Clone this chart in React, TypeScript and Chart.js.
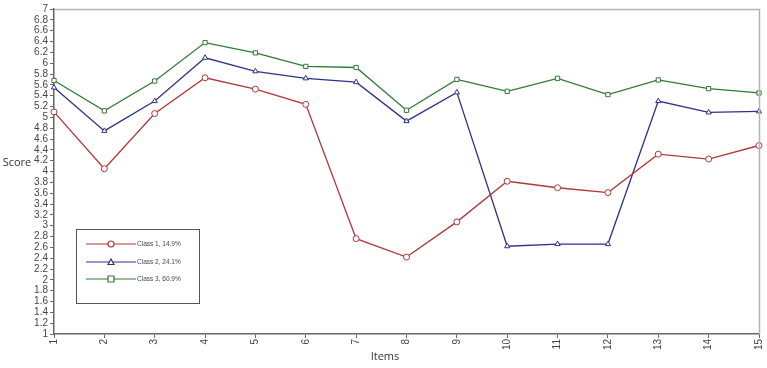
import React, { useEffect, useRef } from "react";
import { Chart, registerables } from "chart.js";

Chart.register(...registerables);

const items = ["1", "2", "3", "4", "5", "6", "7", "8", "9", "10", "11", "12", "13", "14", "15"];
const class1 = [5.1, 4.05, 5.07, 5.73, 5.52, 5.24, 2.76, 2.42, 3.07, 3.82, 3.7, 3.61, 4.32, 4.23, 4.48];
const class2 = [5.55, 4.75, 5.3, 6.1, 5.85, 5.72, 5.65, 4.93, 5.46, 2.62, 2.66, 2.66, 5.3, 5.09, 5.11];
const class3 = [5.68, 5.12, 5.67, 6.38, 6.19, 5.94, 5.92, 5.13, 5.7, 5.48, 5.72, 5.42, 5.69, 5.53, 5.45];
const seriesNames = ["Class 1, 14.9%", "Class 2, 24.1%", "Class 3, 60.9%"];
const yMin = 1;
const yMax = 7;
const yStep = 0.2;

const RED = "#b0373a";
const BLUE = "#303088";
const GREEN = "#2f7a34";

const framePlugin = {
  id: "frameAndExtras",
  afterDraw(chart: any) {
    const { ctx, chartArea } = chart;
    const { left, right, top, bottom } = chartArea;
    ctx.save();
    ctx.strokeStyle = "#b4b4b4";
    ctx.lineWidth = 1.5;
    ctx.beginPath();
    ctx.moveTo(left, top + 0.5);
    ctx.lineTo(right + 0.5, top + 0.5);
    ctx.lineTo(right + 0.5, bottom);
    ctx.stroke();

    ctx.fillStyle = "#333";
    ctx.font = "11px 'Open Sans', 'DejaVu Sans', sans-serif";
    ctx.textAlign = "center";
    ctx.textBaseline = "middle";
    ctx.fillText("Items", 385, 357);
    ctx.fillText("Score", 17, 163);

    const bx = 76, by = 229, bw = 123, bh = 74;
    ctx.strokeStyle = "#555";
    ctx.lineWidth = 1;
    ctx.fillStyle = "#fff";
    ctx.fillRect(bx, by, bw, bh);
    ctx.strokeRect(bx + 0.5, by + 0.5, bw, bh);
    const rows = [
      { color: RED, style: "circle", y: 244 },
      { color: BLUE, style: "triangle", y: 262 },
      { color: GREEN, style: "rect", y: 279 },
    ];
    ctx.font = "6.5px 'Liberation Sans', Arial, sans-serif";
    ctx.textAlign = "left";
    rows.forEach((r, i) => {
      ctx.strokeStyle = r.color;
      ctx.lineWidth = 1.2;
      ctx.beginPath();
      ctx.moveTo(86, r.y);
      ctx.lineTo(136, r.y);
      ctx.stroke();
      ctx.fillStyle = "#fff";
      ctx.beginPath();
      if (r.style === "circle") {
        ctx.arc(111, r.y, 3, 0, Math.PI * 2);
      } else if (r.style === "triangle") {
        ctx.moveTo(111, r.y - 3);
        ctx.lineTo(114, r.y + 2.5);
        ctx.lineTo(108, r.y + 2.5);
        ctx.closePath();
      } else {
        ctx.rect(108, r.y - 3, 6, 6);
      }
      ctx.fill();
      ctx.stroke();
      ctx.fillStyle = "#444";
      ctx.fillText(seriesNames[i], 137, r.y + 0.5);
    });
    ctx.restore();
  },
};

export default function App() {
  const ref = useRef<HTMLCanvasElement | null>(null);
  useEffect(() => {
    document.body.style.margin = "0";
    const mk = (label: string, data: number[], color: string, style: string, radius: number) => ({
      label,
      data,
      borderColor: color,
      backgroundColor: "#fff",
      pointBorderColor: color,
      pointBackgroundColor: "#fff",
      pointStyle: style,
      pointRadius: radius,
      pointBorderWidth: 1,
      borderWidth: 1.3,
      tension: 0,
    });
    const chart = new Chart(ref.current as HTMLCanvasElement, {
      type: "line",
      data: {
        labels: items,
        datasets: [
          mk(seriesNames[0], class1, RED, "circle", 3),
          mk(seriesNames[1], class2, BLUE, "triangle", 3),
          mk(seriesNames[2], class3, GREEN, "rect", 3),
        ],
      },
      options: {
        animation: false,
        responsive: false,
        maintainAspectRatio: false,
        layout: { padding: { left: 0, top: 9, right: 8, bottom: 0 } },
        plugins: { legend: { display: false }, tooltip: { enabled: false } },
        scales: {
          x: {
            type: "category",
            offset: false,
            grid: { drawOnChartArea: false, drawTicks: true, tickLength: 4, color: "#666" },
            border: { color: "#666", width: 1.5 },
            ticks: {
              color: "#444",
              font: { size: 10, family: "'Liberation Sans', Arial, sans-serif" },
              maxRotation: 90,
              minRotation: 90,
              padding: 1,
              autoSkip: false,
            },
            afterFit: (s: any) => {
              s.height = 34;
              s.paddingRight = 0;
              s.paddingLeft = 0;
            },
          },
          y: {
            min: yMin,
            max: yMax,
            grid: { drawOnChartArea: false, drawTicks: true, tickLength: 4, color: "#666" },
            border: { color: "#666", width: 1.5 },
            ticks: {
              stepSize: yStep,
              color: "#444",
              font: { size: 10, family: "'Liberation Sans', Arial, sans-serif" },
              padding: 2,
              autoSkip: false,
              callback: (v: any) => String(Math.round(Number(v) * 10) / 10),
            },
            afterFit: (s: any) => {
              s.width = 54;
              s.paddingTop = 0;
              s.paddingBottom = 0;
            },
          },
        },
      },
      plugins: [framePlugin],
    } as any);
    return () => chart.destroy();
  }, []);
  return (
    <div style={{ position: "absolute", left: 0, top: 0, width: 767, height: 368, background: "#fff" }}>
      <canvas ref={ref} width={767} height={368} style={{ width: 767, height: 368 }} />
    </div>
  );
}
